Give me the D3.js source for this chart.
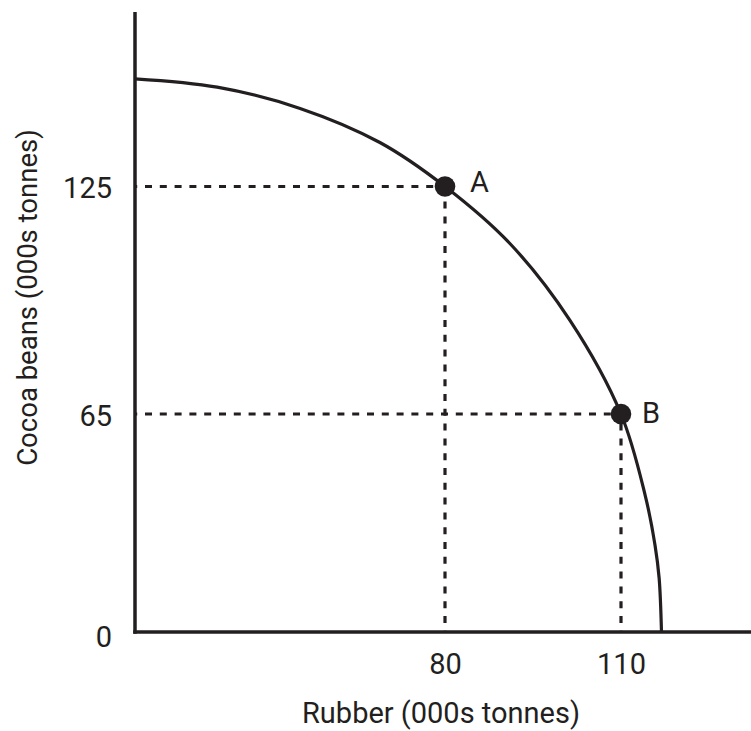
<!DOCTYPE html>
<html><head><meta charset="utf-8">
<script src="https://cdn.jsdelivr.net/npm/d3@7"></script>
<style>html,body{margin:0;padding:0;background:#fff;}svg{display:block;}</style>
</head><body>
<svg id="chart" width="751" height="731"></svg>
<script>
// ---- data ----
const pointNames = ["A", "B"];
const pointRubber = [80, 110];
const pointCocoa = [125, 65];
const curveRubber = [0, 21.2, 42.6, 63.2, 80, 91.1, 101.3, 110, 114.1, 115.8, 116.5, 116.9];
const curveCocoa = [153.4, 151.2, 145.6, 136.6, 125, 109.9, 89.7, 65, 40.9, 25.9, 16.1, 0];
const xTickValues = [80, 110];
const yTickValues = [0, 65, 125];
const xTitle = "Rubber (000s tonnes)";
const yTitle = "Cocoa beans (000s tonnes)";

// ---- layout ----
const INK = "#231f20";
const FONT = "Roboto, 'Open Sans', sans-serif";
const FS = 29;
const originX = 135, originY = 632;
const yAxisTop = 12, xAxisRight = 751;
const labelOffset = {A: [25, 5.5], B: [21, 9]};

const svg = d3.select("#chart");

const x = d3.scaleLinear().domain([0, ...xTickValues]).range([originX, 445, 621]);
const y = d3.scaleLinear().domain(yTickValues).range([originY, 414, 186.5]);

// axes lines
svg.append("line").attr("x1", originX).attr("x2", originX)
  .attr("y1", yAxisTop).attr("y2", originY + 1.75)
  .attr("stroke", INK).attr("stroke-width", 3.5);
svg.append("line").attr("x1", originX - 1.75).attr("x2", xAxisRight)
  .attr("y1", originY).attr("y2", originY)
  .attr("stroke", INK).attr("stroke-width", 3.5);

// tick labels via d3 axes
const gx = svg.append("g").attr("transform", `translate(0,${originY})`)
  .call(d3.axisBottom(x).tickValues(xTickValues).tickSize(0).tickPadding(21).tickFormat(d3.format("d")));
gx.select(".domain").remove();
const gy = svg.append("g").attr("transform", `translate(${originX},0)`)
  .call(d3.axisLeft(y).tickValues(yTickValues).tickSize(0).tickPadding(23).tickFormat(d3.format("d")));
gy.select(".domain").remove();
svg.selectAll(".tick text").attr("font-family", FONT).attr("font-size", FS).attr("fill", INK);
gy.selectAll(".tick text").attr("dy", d => d === 0 ? "0.5em" : "0.38em");

// curve
const curvePts = curveRubber.map((r, i) => [r, curveCocoa[i]]);
svg.append("path").datum(curvePts)
  .attr("d", d3.line().x(d => x(d[0])).y(d => y(d[1])).curve(d3.curveCatmullRom.alpha(0.5)))
  .attr("fill", "none").attr("stroke", INK).attr("stroke-width", 3.2);

// dashed guide lines
const pts = pointNames.map((n, i) => ({name: n, r: pointRubber[i], c: pointCocoa[i]}));
svg.selectAll(".hguide").data(pts).enter().append("line")
  .attr("x1", originX).attr("x2", d => x(d.r))
  .attr("y1", d => y(d.c)).attr("y2", d => y(d.c))
  .attr("stroke", INK).attr("stroke-width", 3.2)
  .attr("stroke-dasharray", "7 7.8").attr("stroke-dashoffset", 4.8);
svg.selectAll(".vguide").data(pts).enter().append("line")
  .attr("x1", d => x(d.r)).attr("x2", d => x(d.r))
  .attr("y1", originY).attr("y2", d => y(d.c))
  .attr("stroke", INK).attr("stroke-width", 3.2)
  .attr("stroke-dasharray", "7 7.8").attr("stroke-dashoffset", 5.8);

// points
svg.selectAll(".pt").data(pts).enter().append("circle")
  .attr("cx", d => x(d.r)).attr("cy", d => y(d.c)).attr("r", 10.3).attr("fill", INK);
svg.selectAll(".pl").data(pts).enter().append("text")
  .attr("x", d => x(d.r) + labelOffset[d.name][0])
  .attr("y", d => y(d.c) + labelOffset[d.name][1])
  .attr("font-family", FONT).attr("font-size", FS).attr("fill", INK)
  .text(d => d.name);

// axis titles
svg.append("text").attr("x", 441).attr("y", 723).attr("text-anchor", "middle")
  .attr("font-family", FONT).attr("font-size", FS).attr("fill", INK).text(xTitle);
svg.append("text").attr("transform", "translate(37,297.5) rotate(-90)").attr("text-anchor", "middle")
  .attr("font-family", FONT).attr("font-size", 27.5).attr("fill", INK).text(yTitle);
</script>
</body></html>
